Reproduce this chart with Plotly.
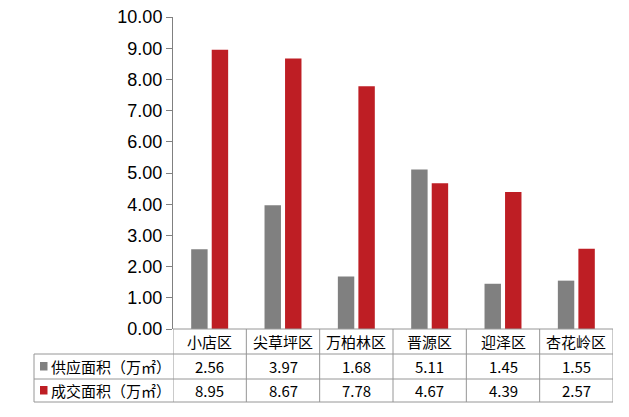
import plotly.graph_objects as go

# window is 629x417, the page body adds an 8px margin around the figure div
WIN_W, WIN_H = 629, 417
OFF = 8
W, H = WIN_W - OFF, WIN_H - OFF

# plot area edges in window pixels (top kept a little low so "10.00" is not cut)
AX_LEFT, AX_RIGHT, AX_TOP, AX_BOTTOM = 173, 613, 17, 329

categories = ["小店区", "尖草坪区", "万柏林区", "晋源区", "迎泽区", "杏花岭区"]
supply = [2.56, 3.97, 1.68, 5.11, 1.45, 1.55]
deal = [8.95, 8.67, 7.78, 4.67, 4.39, 2.57]
series_names = ["供应面积（万㎡）", "成交面积（万㎡）"]
series_colors = ["#808080", "#BE1E24"]
y_ticks = [0, 1, 2, 3, 4, 5, 6, 7, 8, 9, 10]

LINE = "#969696"
CJK = "Noto Sans CJK SC, Microsoft YaHei, sans-serif"

plot_w = AX_RIGHT - AX_LEFT
plot_h = AX_BOTTOM - AX_TOP


def px_x(p):
    return (p - AX_LEFT) / plot_w


def px_y(p):
    return (AX_BOTTOM - p) / plot_h


# table rows (window pixel edges)
row_edges = [AX_BOTTOM, 354, 379, 402]
table_left = 34

fig = go.Figure()
for name, vals, color in zip(series_names, [supply, deal], series_colors):
    fig.add_trace(go.Bar(x=categories, y=vals, name=name,
                         marker=dict(color=color, line=dict(width=0)),
                         hoverinfo="x+y"))

shapes = []
# top border of header row (category cells only)
shapes.append(dict(type="line", xref="paper", yref="paper",
                   x0=0, x1=1, y0=0, y1=0,
                   line=dict(color=LINE, width=1)))
for p in row_edges[1:]:
    shapes.append(dict(type="line", xref="paper", yref="paper",
                       x0=px_x(table_left), x1=1, y0=px_y(p), y1=px_y(p),
                       line=dict(color=LINE, width=1)))
for i in range(len(categories) + 1):
    shapes.append(dict(type="line", xref="x", yref="paper",
                       x0=i - 0.5, x1=i - 0.5,
                       y0=0, y1=px_y(row_edges[-1]),
                       line=dict(color=LINE, width=1)))
shapes.append(dict(type="line", xref="paper", yref="paper",
                   x0=px_x(table_left), x1=px_x(table_left),
                   y0=px_y(row_edges[1]), y1=px_y(row_edges[-1]),
                   line=dict(color=LINE, width=1)))

annotations = []
head_c = (row_edges[0] + row_edges[1]) / 2
for c in categories:
    annotations.append(dict(x=c, y=px_y(head_c), xref="x", yref="paper",
                            text=c, showarrow=False, xanchor="center", yanchor="middle",
                            font=dict(family=CJK, size=15, color="#000")))

for r, (name, vals, color) in enumerate(zip(series_names, [supply, deal], series_colors)):
    yc = (row_edges[r + 1] + row_edges[r + 2]) / 2
    shapes.append(dict(type="rect", xref="paper", yref="paper",
                       x0=px_x(40), x1=px_x(47.5), y0=px_y(yc - 4.5), y1=px_y(yc + 4),
                       fillcolor=color, line=dict(width=0)))
    annotations.append(dict(x=px_x(49), y=px_y(yc), xref="paper", yref="paper",
                            text=name, showarrow=False, xanchor="left", yanchor="middle",
                            font=dict(family=CJK, size=15, color="#000")))
    for c, v in zip(categories, vals):
        annotations.append(dict(x=c, y=px_y(yc), xref="x", yref="paper",
                                text=f"{v:.2f}", showarrow=False,
                                xanchor="center", yanchor="middle",
                                font=dict(family=CJK, size=15, color="#000")))

fig.update_layout(
    width=W, height=H, autosize=False,
    margin=dict(l=AX_LEFT - OFF, r=WIN_W - AX_RIGHT, t=AX_TOP - OFF,
                b=WIN_H - AX_BOTTOM, pad=0, autoexpand=False),
    paper_bgcolor="white", plot_bgcolor="white",
    barmode="group", bargap=0.44, bargroupgap=0.2,
    showlegend=False,
    shapes=shapes, annotations=annotations,
    xaxis=dict(range=[-0.5, len(categories) - 0.5], showticklabels=False,
               showline=False, showgrid=False, zeroline=False, ticks="",
               automargin=False),
    yaxis=dict(range=[0, 10], tickvals=y_ticks,
               ticktext=[f"{v:.2f}" for v in y_ticks],
               showline=True, linecolor="#808080", linewidth=1,
               ticks="outside", ticklen=6, tickcolor="#808080",
               showgrid=False, zeroline=False, automargin=False,
               ticklabeloverflow="allow",
               tickfont=dict(family="Liberation Sans, Arial", size=18, color="#000")),
)

fig.write_html("out.html")
